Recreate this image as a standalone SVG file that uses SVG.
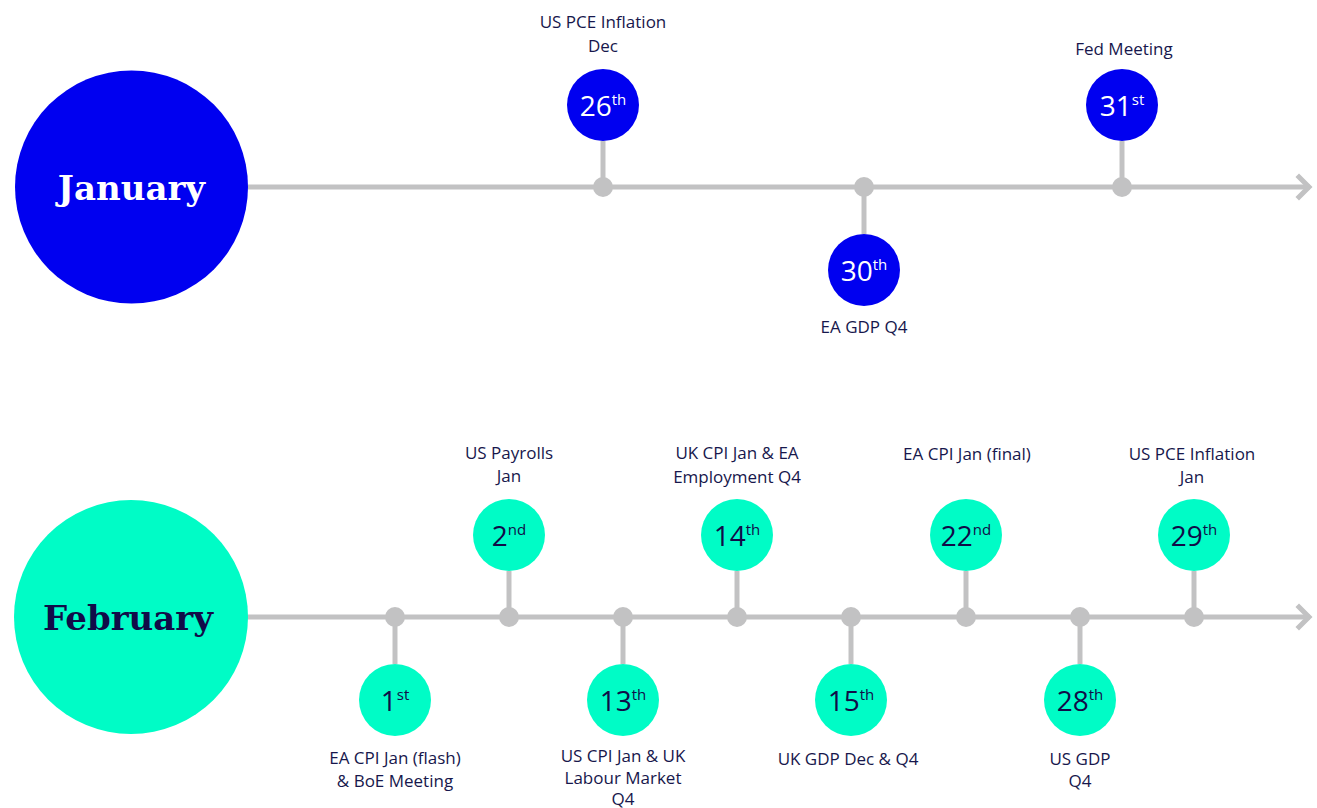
<svg xmlns="http://www.w3.org/2000/svg" width="1317" height="808" viewBox="0 0 1317 808">
<style>
.line{stroke:#c2c2c3;stroke-width:5;fill:none}
.arrow{stroke:#c2c2c3;stroke-width:5;fill:none;stroke-linecap:square;stroke-linejoin:miter}
.dot{fill:#c2c2c3}
.jan{fill:#0000f0}
.feb{fill:#00fcc6}
.month{font-family:"DejaVu Serif",serif;font-weight:bold;font-size:34px;text-anchor:middle}
.num{font-family:"Open Sans",sans-serif;font-size:28px;text-anchor:middle}
.sup{font-size:15px}
.lbl{font-family:"Open Sans",sans-serif;font-size:17px;fill:#17174c;text-anchor:middle}
.wt{fill:#ffffff}
.nv{fill:#110c48}
</style>
<rect width="1317" height="808" fill="#ffffff"/>
<g id="connectors">
<line class="line" x1="245" y1="187" x2="1310" y2="187"/>
<polyline class="arrow" points="1299,177 1309,187 1299,197"/>
<line class="line" x1="603" y1="141" x2="603" y2="187"/>
<line class="line" x1="864" y1="187" x2="864" y2="234"/>
<line class="line" x1="1122" y1="141" x2="1122" y2="187"/>
<line class="line" x1="245" y1="617" x2="1310" y2="617"/>
<polyline class="arrow" points="1299,607 1309,617 1299,627"/>
<line class="line" x1="395" y1="617" x2="395" y2="664"/>
<line class="line" x1="509" y1="571" x2="509" y2="617"/>
<line class="line" x1="623" y1="617" x2="623" y2="664"/>
<line class="line" x1="737" y1="571" x2="737" y2="617"/>
<line class="line" x1="851" y1="617" x2="851" y2="664"/>
<line class="line" x1="966" y1="571" x2="966" y2="617"/>
<line class="line" x1="1080" y1="617" x2="1080" y2="664"/>
<line class="line" x1="1194" y1="571" x2="1194" y2="617"/>
<circle class="dot" cx="603" cy="187" r="10"/>
<circle class="dot" cx="864" cy="187" r="10"/>
<circle class="dot" cx="1122" cy="187" r="10"/>
<circle class="dot" cx="395" cy="617" r="10"/>
<circle class="dot" cx="509" cy="617" r="10"/>
<circle class="dot" cx="623" cy="617" r="10"/>
<circle class="dot" cx="737" cy="617" r="10"/>
<circle class="dot" cx="851" cy="617" r="10"/>
<circle class="dot" cx="966" cy="617" r="10"/>
<circle class="dot" cx="1080" cy="617" r="10"/>
<circle class="dot" cx="1194" cy="617" r="10"/>
</g>
<g id="january">
<circle class="jan" cx="131.5" cy="187" r="116.5"/>
<text class="month wt" x="131.5" y="200">January</text>
</g>
<g id="jan-26">
<circle class="jan" cx="603" cy="105" r="36"/>
<text class="num wt" x="603" y="116">26<tspan class="sup" dy="-11">th</tspan></text>
<text class="lbl" x="603" y="28">US PCE Inflation</text>
<text class="lbl" x="603" y="52">Dec</text>
</g>
<g id="jan-30">
<circle class="jan" cx="864" cy="270" r="36"/>
<text class="num wt" x="864" y="281">30<tspan class="sup" dy="-11">th</tspan></text>
<text class="lbl" x="864" y="333">EA GDP Q4</text>
</g>
<g id="jan-31">
<circle class="jan" cx="1122" cy="105" r="36"/>
<text class="num wt" x="1122" y="116">31<tspan class="sup" dy="-11">st</tspan></text>
<text class="lbl" x="1124" y="55">Fed Meeting</text>
</g>
<g id="february">
<circle class="feb" cx="131" cy="617" r="117"/>
<text class="month nv" x="128" y="630">February</text>
</g>
<g id="feb-1">
<circle class="feb" cx="395" cy="700" r="36"/>
<text class="num nv" x="395" y="711">1<tspan class="sup" dy="-11">st</tspan></text>
<text class="lbl" x="395" y="764">EA CPI Jan (flash)</text>
<text class="lbl" x="395" y="787">&amp; BoE Meeting</text>
</g>
<g id="feb-2">
<circle class="feb" cx="509" cy="535" r="36"/>
<text class="num nv" x="509" y="546">2<tspan class="sup" dy="-11">nd</tspan></text>
<text class="lbl" x="509" y="459">US Payrolls</text>
<text class="lbl" x="509" y="482">Jan</text>
</g>
<g id="feb-13">
<circle class="feb" cx="623" cy="700" r="36"/>
<text class="num nv" x="623" y="711">13<tspan class="sup" dy="-11">th</tspan></text>
<text class="lbl" x="623" y="762">US CPI Jan &amp; UK</text>
<text class="lbl" x="623" y="784">Labour Market</text>
<text class="lbl" x="623" y="805">Q4</text>
</g>
<g id="feb-14">
<circle class="feb" cx="737" cy="535" r="36"/>
<text class="num nv" x="737" y="546">14<tspan class="sup" dy="-11">th</tspan></text>
<text class="lbl" x="737" y="459">UK CPI Jan &amp; EA</text>
<text class="lbl" x="737" y="483">Employment Q4</text>
</g>
<g id="feb-15">
<circle class="feb" cx="851" cy="700" r="36"/>
<text class="num nv" x="851" y="711">15<tspan class="sup" dy="-11">th</tspan></text>
<text class="lbl" x="848" y="765">UK GDP Dec &amp; Q4</text>
</g>
<g id="feb-22">
<circle class="feb" cx="966" cy="535" r="36"/>
<text class="num nv" x="966" y="546">22<tspan class="sup" dy="-11">nd</tspan></text>
<text class="lbl" x="967" y="460">EA CPI Jan (final)</text>
</g>
<g id="feb-28">
<circle class="feb" cx="1080" cy="700" r="36"/>
<text class="num nv" x="1080" y="711">28<tspan class="sup" dy="-11">th</tspan></text>
<text class="lbl" x="1080" y="765">US GDP</text>
<text class="lbl" x="1080" y="787">Q4</text>
</g>
<g id="feb-29">
<circle class="feb" cx="1194" cy="535" r="36"/>
<text class="num nv" x="1194" y="546">29<tspan class="sup" dy="-11">th</tspan></text>
<text class="lbl" x="1192" y="460">US PCE Inflation</text>
<text class="lbl" x="1192" y="483">Jan</text>
</g>
</svg>
